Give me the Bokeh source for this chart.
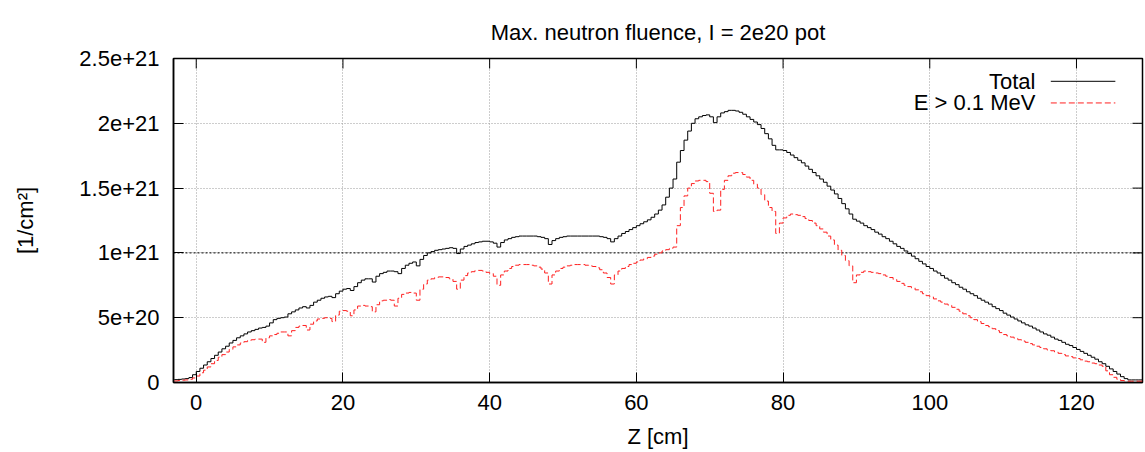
import numpy as np
from bokeh.plotting import figure
from bokeh.models import FixedTicker, Span, Label, Arrow, Range1d
from bokeh.embed import file_html
from bokeh.resources import INLINE

# ---------------- data (values in units of 1e20 per cm^2, 0.5 cm bins from z = -3 cm) ----------
z_start = -3.0
bin_width = 0.5
unit = 1e20

total = [
    0.22, 0.24, 0.27, 0.30, 0.38, 0.60,                                  # -3 .. -0.5
    0.85, 1.10, 1.35, 1.60, 1.85, 2.10, 2.35, 2.60, 2.80, 3.05,          # 0 .. 4.5
    3.25, 3.45, 3.60, 3.75, 3.90, 4.00, 4.10, 4.20, 4.25, 4.35,          # 5
    4.60, 4.85, 4.95, 5.00, 5.05, 5.30, 5.45, 5.60, 5.75, 5.85,          # 10
    5.75, 5.95, 6.20, 6.35, 6.50, 6.60, 6.65, 6.55, 6.85, 7.05,          # 15
    7.20, 7.25, 7.10, 7.40, 7.70, 7.90, 8.00, 8.00, 7.75, 8.20,          # 20
    8.40, 8.50, 8.60, 8.60, 8.55, 8.40, 8.80, 9.05, 9.20, 9.30,          # 25
    9.00, 9.50, 9.80, 10.0, 10.1, 10.2, 10.25, 10.3, 10.35, 10.4,        # 30
    10.35, 9.95, 10.3, 10.5, 10.6, 10.7, 10.8, 10.85, 10.9, 10.9,        # 35
    10.85, 10.75, 10.45, 10.8, 11.0, 11.1, 11.2, 11.25, 11.3, 11.3,      # 40
    11.3, 11.3, 11.3, 11.25, 11.2, 11.1, 10.65, 10.95, 11.1, 11.2,       # 45
    11.25, 11.3, 11.3, 11.3, 11.3, 11.3, 11.3, 11.3, 11.3, 11.3,         # 50
    11.25, 11.2, 11.1, 10.85, 11.1, 11.3, 11.5, 11.65, 11.8, 11.95,      # 55
    12.1, 12.25, 12.4, 12.55, 12.75, 13.0, 13.3, 13.7, 14.3, 15.0,       # 60
    15.7, 17.0, 17.9, 18.7, 19.4, 20.0, 20.35, 20.5, 20.6, 20.65,        # 65
    20.5, 20.05, 20.5, 20.8, 20.9, 21.0, 21.0, 20.95, 20.85, 20.7,       # 70
    20.5, 20.3, 20.1, 19.9, 19.6, 19.2, 18.8, 18.3, 17.95, 17.95,        # 75
    17.9, 17.75, 17.55, 17.35, 17.15, 16.95, 16.7, 16.45, 16.2, 15.95,   # 80
    15.7, 15.45, 15.15, 14.85, 14.55, 14.2, 13.8, 13.4, 13.0, 12.6,      # 85
    12.45, 12.3, 12.1, 11.95, 11.8, 11.6, 11.45, 11.25, 11.1, 10.9,      # 90
    10.7, 10.5, 10.35, 10.15, 9.95, 9.75, 9.55, 9.35, 9.15, 8.95,        # 95
    8.8, 8.6, 8.45, 8.25, 8.05, 7.9, 7.7, 7.55, 7.35, 7.2,               # 100
    7.0, 6.85, 6.7, 6.5, 6.35, 6.2, 6.05, 5.85, 5.7, 5.55,               # 105
    5.35, 5.2, 5.05, 4.9, 4.75, 4.6, 4.45, 4.35, 4.2, 4.05,              # 110
    3.9, 3.75, 3.65, 3.5, 3.35, 3.25, 3.1, 2.95, 2.85, 2.7,              # 115
    2.55, 2.4, 2.25, 2.1, 1.95, 1.8, 1.6, 1.45, 1.25, 1.05,              # 120
    0.85, 0.65, 0.45, 0.3, 0.2, 0.2, 0.2, 0.2,                           # 125 .. 128.5
]

fast = [
    0.12, 0.15, 0.18, 0.20, 0.25, 0.35,                                  # -3 .. -0.5
    0.50, 0.75, 0.95, 1.20, 1.45, 1.70, 1.95, 2.15, 2.35, 2.55,          # 0
    2.75, 2.90, 3.05, 3.15, 3.25, 3.30, 3.35, 3.35, 3.10, 3.45,          # 5
    3.60, 3.70, 3.80, 3.90, 3.90, 3.60, 4.00, 4.25, 4.35, 4.40,          # 10
    4.05, 4.50, 4.75, 4.90, 4.95, 5.00, 4.95, 4.70, 5.20, 5.50,          # 15
    5.55, 5.50, 5.15, 5.60, 5.90, 5.95, 5.90, 5.85, 5.45, 6.00,          # 20
    6.30, 6.35, 6.40, 6.35, 5.90, 6.50, 6.80, 6.90, 6.95, 6.90,          # 25
    6.35, 7.20, 7.60, 7.90, 8.00, 8.10, 8.15, 8.15, 8.10, 8.00,          # 30
    7.80, 7.20, 7.90, 8.25, 8.45, 8.55, 8.65, 8.65, 8.60, 8.50,          # 35
    8.40, 8.20, 7.50, 8.30, 8.60, 8.80, 8.95, 9.05, 9.10, 9.10,          # 40
    9.10, 9.05, 9.00, 8.90, 8.75, 8.45, 7.60, 8.30, 8.60, 8.80,          # 45
    8.90, 9.00, 9.05, 9.10, 9.10, 9.10, 9.05, 9.00, 8.95, 8.85,          # 50
    8.70, 8.45, 8.10, 7.60, 8.30, 8.60, 8.80, 8.95, 9.10, 9.20,          # 55
    9.30, 9.45, 9.55, 9.65, 9.75, 9.90, 10.0, 10.15, 10.25, 10.35,       # 60
    10.45, 12.1, 13.5, 14.4, 15.0, 15.35, 15.55, 15.6, 15.6, 15.5,       # 65
    14.6, 13.2, 13.3, 14.9, 15.6, 15.95, 16.15, 16.2, 16.2, 16.05,       # 70
    15.85, 15.6, 15.3, 15.0, 14.5, 14.0, 13.5, 13.2, 11.5, 12.3,         # 75
    12.7, 12.9, 13.0, 12.95, 12.9, 12.8, 12.65, 12.5, 12.3, 12.1,        # 80
    11.85, 11.6, 11.3, 11.0, 10.6, 10.2, 9.8, 9.4, 9.0, 7.7,             # 85
    8.3, 8.5, 8.6, 8.55, 8.5, 8.45, 8.4, 8.3, 8.2, 8.1,                  # 90
    7.95, 7.8, 7.65, 7.5, 7.4, 7.3, 7.15, 7.0, 6.85, 6.7,                # 95
    6.6, 6.45, 6.3, 6.2, 6.05, 5.95, 5.8, 5.65, 5.5, 5.3,                # 100
    5.15, 5.0, 4.85, 4.7, 4.55, 4.4, 4.3, 4.15, 4.0, 3.85,               # 105
    3.7, 3.6, 3.5, 3.4, 3.3, 3.2, 3.1, 3.0, 2.9, 2.8,                    # 110
    2.7, 2.6, 2.5, 2.45, 2.35, 2.25, 2.15, 2.05, 2.0, 1.9,               # 115
    1.85, 1.75, 1.65, 1.6, 1.5, 1.45, 1.35, 1.25, 0.9, 0.6,              # 120
    0.4, 0.25, 0.15, 0.12, 0.1, 0.1, 0.1, 0.1,                           # 125 .. 128.5
]

x_ticks = [0, 20, 40, 60, 80, 100, 120]
y_ticks = [0, 5e20, 1e21, 1.5e21, 2e21, 2.5e21]
y_tick_labels = ["0", "5e+20", "1e+21", "1.5e+21", "2e+21", "2.5e+21"]
series_names = ["Total", "E > 0.1 MeV"]

# ---------------- figure ----------------
FONT = "Liberation Sans"
FS = "22px"
X_MIN, X_MAX = -3.1, 129.0
Y_MIN, Y_MAX = 0.0, 2.5e21

edges_t = z_start + bin_width * np.arange(len(total) + 1)
edges_f = z_start + bin_width * np.arange(len(fast) + 1)
yt = np.array(total + [total[-1]]) * unit
yf = np.array(fast + [fast[-1]]) * unit

p = figure(width=1145, height=452, output_backend="svg", toolbar_location=None,
           x_range=Range1d(X_MIN, X_MAX), y_range=Range1d(Y_MIN, Y_MAX),
           min_border_left=173, min_border_right=3, min_border_top=58, min_border_bottom=70,
           title="Max. neutron fluence, I = 2e20 pot")
p.title.align = "center"
p.title.standoff = 28
p.title.text_font = FONT
p.title.text_font_size = FS
p.title.text_font_style = "normal"
p.title.text_color = "black"

p.outline_line_color = "black"
p.outline_line_width = 1.5
p.outline_line_alpha = 1.0
p.background_fill_color = "white"
p.border_fill_color = "white"

xt = FixedTicker(ticks=x_ticks)
ytk = FixedTicker(ticks=y_ticks)

p.xaxis.ticker = xt
p.yaxis.ticker = ytk
p.yaxis.major_label_overrides = {v: s for v, s in zip(y_ticks, y_tick_labels)}
for ax in (p.xaxis[0], p.yaxis[0]):
    ax.major_tick_in = 10
    ax.major_tick_out = 0
    ax.minor_tick_line_color = None
    ax.major_tick_line_color = "black"
    ax.major_tick_line_width = 1
    ax.axis_line_color = "black"
    ax.axis_line_width = 1.5
    ax.major_label_text_font = FONT
    ax.major_label_text_font_size = FS
    ax.major_label_text_color = "black"
    ax.axis_label_text_font = FONT
    ax.axis_label_text_font_size = FS
    ax.axis_label_text_font_style = "normal"
    ax.axis_label_text_color = "black"

p.xaxis.axis_label = "Z [cm]"
p.xaxis.major_label_standoff = 12
p.xaxis.axis_label_standoff = 11
p.yaxis.axis_label = "[1/cm²]"
p.yaxis.major_label_standoff = 14
p.yaxis.axis_label_standoff = 38

p.xgrid.ticker = xt
p.ygrid.ticker = ytk
for g in (p.xgrid[0], p.ygrid[0]):
    g.grid_line_color = "#9a9a9a"
    g.grid_line_dash = "1 2"
    g.grid_line_width = 1

p.add_layout(Span(location=1e21, dimension="width", line_color="black",
                  line_dash="2 2", line_width=1, level="underlay"))

# mirrored inward ticks on the top and right frame edges (gnuplot style), 10 px long
tick_len_x = 10 * (Y_MAX - Y_MIN) / 324.0
tick_len_y = 10 * (X_MAX - X_MIN) / 969.0
p.segment(x0=x_ticks, y0=[Y_MAX] * len(x_ticks), x1=x_ticks,
          y1=[Y_MAX - tick_len_x] * len(x_ticks), line_color="black", line_width=1)
p.segment(x0=[X_MAX] * len(y_ticks), y0=y_ticks, x1=[X_MAX - tick_len_y] * len(y_ticks),
          y1=y_ticks, line_color="black", line_width=1)

p.step(edges_t, yt, mode="after", line_color="black", line_width=1)
p.step(edges_f, yf, mode="after", line_color="#ff2020", line_width=1, line_dash="6 3")

# legend (text left of sample line, gnuplot style)
leg_rows = [(2.324e21, "black", "solid"), (2.157e21, "#ff2020", "6 3")]
for name, (yy, col, dash) in zip(series_names, leg_rows):
    p.add_layout(Label(x=114.4, y=yy, text=name, text_align="right", text_baseline="middle",
                       text_font=FONT, text_font_size=FS, text_color="black"))
    p.add_layout(Arrow(x_start=116.5, y_start=yy, x_end=125.3, y_end=yy, end=None,
                       line_color=col, line_width=1, line_dash=dash))

open("out.html", "w").write(file_html(p, INLINE))
